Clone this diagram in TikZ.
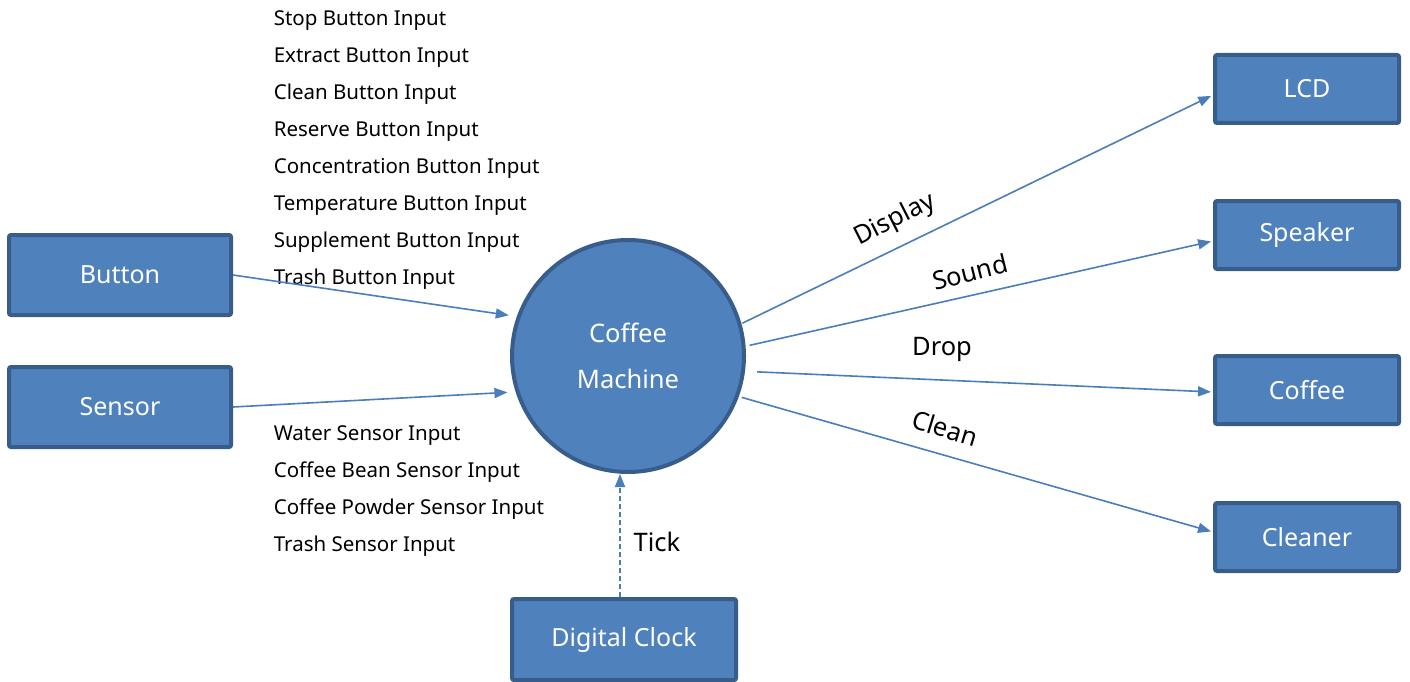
\documentclass[tikz,border=0pt]{standalone}
\usepackage{fontspec}
\setmainfont{Noto Sans}
\usepackage{tikz}
\usetikzlibrary{arrows.meta,positioning,calc}
\usepackage{xcolor}
\definecolor{cmfill}{RGB}{79,129,189}
\definecolor{cmborder}{RGB}{56,93,138}
\definecolor{cmline}{RGB}{74,126,187}

\begin{document}
\begin{tikzpicture}[x=1pt, y=-1pt, >={Triangle[length=13pt,width=10pt]}, line width=1.6pt]
\tikzstyle{unit}=[rectangle,draw=cmborder,fill=cmfill,line width=4pt,rounded corners=2pt,text=white,font=\fontsize{25}{30}\selectfont]
\tikzstyle{outunit}=[unit,minimum width=184,minimum height=68]
\tikzstyle{flow}=[font=\fontsize{25.5}{30}\selectfont,text=black]
\tikzstyle{inlist}=[anchor=north west,align=left,inner sep=0pt,font=\fontsize{20.5}{37}\selectfont]
\useasboundingbox (0,0) rectangle (1410,682);
\node[circle,draw=cmborder,fill=cmfill,line width=4pt,minimum size=232,text=white,align=center,
      font=\fontsize{25.5}{46}\selectfont] (cm) at (628,356) {Coffee\\Machine};
\node[unit,minimum width=222,minimum height=80] (button) at (120,275) {Button};
\node[unit,minimum width=222,minimum height=80] (sensor) at (120,407) {Sensor};
\node[unit,minimum width=224,minimum height=81] (clock) at (624,639.5) {Digital Clock};
\node[outunit] (lcd)     at (1307,89)  {LCD};
\node[outunit] (speaker) at (1307,235) {Speaker};
\node[outunit] (coffee)  at (1307,390) {Coffee};
\node[outunit] (cleaner) at (1307,537) {Cleaner};
% input lists
\node[inlist] (btnlist) at (273,10) {Stop Button Input\\Extract Button Input\\Clean Button Input\\Reserve Button Input\\Concentration Button Input\\Temperature Button Input\\Supplement Button Input\\Trash Button Input};
\node[inlist] (senlist) at (273,425) {Water Sensor Input\\Coffee Bean Sensor Input\\Coffee Powder Sensor Input\\Trash Sensor Input};
% flows
\path[cmline, ->, shorten >=2pt]
(button.east) edge ($(cm.center)+(-161:124)$)
(sensor.east) edge ($(cm.center)+(-197:124)$)
($(cm.center)+(-16:119)$) edge ([yshift=-6]lcd.west)
($(cm.center)+(-5:122)$) edge ([yshift=-6]speaker.west)
($(cm.center)+(7:130)$) edge ([yshift=-2]coffee.west)
($(cm.center)+(20:121)$) edge ([yshift=5]cleaner.west);
\draw[cmline, ->, dashed, dash pattern=on 5pt off 3pt] ([xshift=-4]clock.north) -- ([xshift=-8]cm.south);
\node[flow, rotate=27]  (display) at (895,220) {Display};
\node[flow, rotate=14]  (sound)   at (970,272) {Sound};
\node[flow]             (drop)    at (942,349) {Drop};
\node[flow, rotate=-17] (clean)   at (945,428) {Clean};
\node[flow]             (tick)    at (657,542) {Tick};
\end{tikzpicture}
\end{document}
